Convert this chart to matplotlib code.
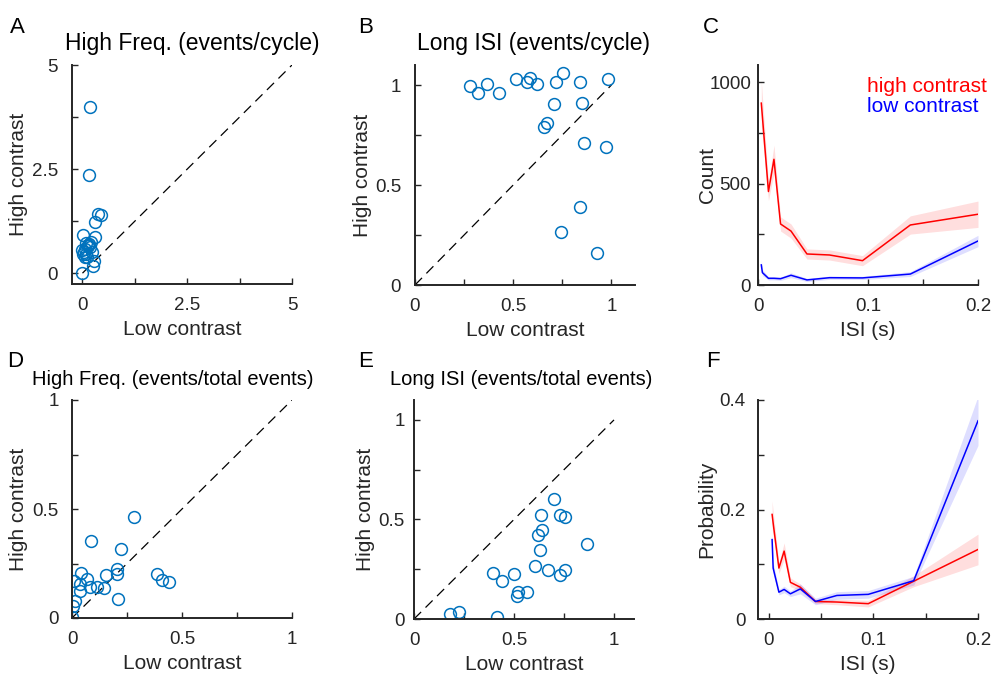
import matplotlib
matplotlib.use("Agg")
import matplotlib.pyplot as plt

plt.rcParams['font.family'] = ['Liberation Sans', 'DejaVu Sans']

# A: high freq events/cycle
low_A = [0.19, 0.16, 0.36, 0.45, 0.30, 0.02, 0.29, 0.15, 0.09, 0.20, 0.05, -0.01,
         0.01, 0.23, 0.11, 0.17, 0.27, 0.25, 0.0, 0.12, 0.08, 0.14, 0.03, 0.06]
high_A = [4.0, 2.35, 1.43, 1.39, 1.23, 0.91, 0.86, 0.71, 0.72, 0.75, 0.59, 0.55,
          0.47, 0.51, 0.39, 0.62, 0.30, 0.17, 0.01, 0.68, 0.45, 0.66, 0.52, 0.40]

# B: long ISI events/cycle
low_B = [0.282, 0.321, 0.368, 0.427, 0.516, 0.569, 0.586, 0.621, 0.718, 0.752, 0.841,
         0.98, 0.709, 0.85, 0.672, 0.658, 0.86, 0.971, 0.841, 0.744, 0.928]
high_B = [0.997, 0.958, 1.005, 0.958, 1.028, 1.017, 1.033, 1.003, 1.013, 1.058, 1.017,
          1.03, 0.903, 0.908, 0.812, 0.789, 0.712, 0.689, 0.389, 0.267, 0.158]

# D: high freq events/total events
low_D = [0.28, 0.086, 0.224, 0.205, 0.205, 0.156, 0.208, 0.386, 0.409, 0.439, 0.041,
         0.008, 0.068, 0.038, 0.083, 0.114, 0.144, 0.038, 0.015, 0.003, 0.0]
high_D = [0.465, 0.354, 0.315, 0.223, 0.2, 0.198, 0.085, 0.203, 0.175, 0.165, 0.208,
          0.172, 0.177, 0.157, 0.142, 0.142, 0.138, 0.123, 0.08, 0.057, 0.003]

# E: long ISI events/total events
low_E = [0.702, 0.635, 0.729, 0.757, 0.64, 0.619, 0.866, 0.632, 0.607, 0.669, 0.754,
         0.732, 0.395, 0.498, 0.441, 0.518, 0.565, 0.515, 0.181, 0.226, 0.415]
high_E = [0.602, 0.522, 0.522, 0.513, 0.447, 0.422, 0.377, 0.347, 0.268, 0.247, 0.247,
          0.222, 0.233, 0.227, 0.193, 0.138, 0.138, 0.117, 0.027, 0.035, 0.01]

# C / F: ISI histograms
isi = [0.003, 0.004, 0.0095, 0.0145, 0.0205, 0.030, 0.0445, 0.065, 0.095, 0.1385, 0.2]
count_high = [897, 830, 461, 620, 301, 266, 153, 148, 120, 296, 349]
count_high_err = [110, 100, 45, 70, 35, 35, 25, 25, 25, 45, 65]
count_low = [99, 61, 33, 33, 31, 48, 25, 36, 35, 54, 217]
count_low_err = [25, 15, 8, 8, 8, 12, 8, 8, 8, 12, 28]
prob_high = [0.191, 0.175, 0.093, 0.124, 0.067, 0.058, 0.032, 0.031, 0.028, 0.069, 0.127]
prob_high_err = [0.025, 0.022, 0.01, 0.015, 0.008, 0.006, 0.004, 0.005, 0.006, 0.01, 0.028]
prob_low = [0.145, 0.093, 0.049, 0.054, 0.046, 0.055, 0.032, 0.043, 0.045, 0.070, 0.362]
prob_low_err = [0.01, 0.01, 0.005, 0.006, 0.005, 0.009, 0.006, 0.007, 0.007, 0.008, 0.045]

DARK = '#262626'
MBLUE = '#0072BD'
W, H = 992, 674

fig = plt.figure(figsize=(9.92, 6.74), dpi=100)


def make_ax(l, t, r, b, ypad):
    ax = fig.add_axes([l / W, 1 - b / H, (r - l) / W, (b - t) / H])
    for s in ['top', 'right']:
        ax.spines[s].set_visible(False)
    for s in ['left', 'bottom']:
        ax.spines[s].set_linewidth(1.4)
        ax.spines[s].set_color(DARK)
    ax.tick_params(direction='in', length=4, width=1, colors=DARK, labelsize=13.5)
    ax.tick_params(axis='x', pad=9.5)
    ax.tick_params(axis='y', pad=ypad)
    return ax


def ticks(ax, xt, xl, yt, yl):
    ax.set_xticks(xt)
    ax.set_xticklabels(xl)
    ax.set_yticks(yt)
    ax.set_yticklabels(yl)


def labels(ax, xlab, ylab, yx, title=None, tx=0.5, tsize=16.5):
    ax.set_xlabel(xlab, fontsize=15, color=DARK)
    ax.xaxis.set_label_coords(0.5, -0.165)
    ax.set_ylabel(ylab, fontsize=15, color=DARK)
    ax.yaxis.set_label_coords(yx, 0.5)
    if title:
        ax.set_title(title, fontsize=tsize, x=tx, pad=11, color='black')


def scatter(ax, x, y, lim):
    ax.plot([0, lim], [0, lim], color='black', lw=0.9, ls=(0, (8, 5)))
    ax.plot(x, y, 'o', mfc='none', mec=MBLUE, ms=8.5, mew=1.1)


# A
ax = make_ax(72, 65, 292, 284, 10)
scatter(ax, low_A, high_A, 5)
ax.set_xlim(-0.25, 5)
ax.set_ylim(-0.26, 5)
ticks(ax, [0, 1.25, 2.5, 3.75, 5], ['0', '', '2.5', '', '5'],
      [0, 1.25, 2.5, 3.75, 5], ['0', '', '2.5', '', '5'])
labels(ax, 'Low contrast', 'High contrast', -0.2, 'High Freq. (events/cycle)', 0.548)

q = [0, 0.25, 0.5, 0.75, 1]
ql = ['0', '', '0.5', '', '1']

# B
ax = make_ax(415, 65, 635, 285, 10)
scatter(ax, low_B, high_B, 1)
ax.set_xlim(0, 1.12)
ax.set_ylim(0, 1.1)
ticks(ax, q, ql, q, ql)
labels(ax, 'Low contrast', 'High contrast', -0.195, 'Long ISI (events/cycle)', 0.54)

# C
ax = make_ax(758, 65, 978, 285, 5)
ax.fill_between(isi, [a - e for a, e in zip(count_high, count_high_err)],
                [a + e for a, e in zip(count_high, count_high_err)],
                color='red', alpha=0.13, lw=0)
ax.fill_between(isi, [a - e for a, e in zip(count_low, count_low_err)],
                [a + e for a, e in zip(count_low, count_low_err)],
                color='blue', alpha=0.13, lw=0)
ax.plot(isi, count_high, color='red', lw=1.1)
ax.plot(isi, count_low, color='blue', lw=1.1)
ax.set_xlim(0, 0.2)
ax.set_ylim(0, 1085)
ticks(ax, [0, 0.05, 0.1, 0.15, 0.2], ['0', '', '0.1', '', '0.2'],
      [0, 250, 500, 750, 1000], ['0', '', '500', '', '1000'])
labels(ax, 'ISI (s)', 'Count', -0.186)
ax.text(0.495, 0.9, 'high contrast', color='red', fontsize=15,
        transform=ax.transAxes, va='center')
ax.text(0.495, 0.81, 'low contrast', color='blue', fontsize=15,
        transform=ax.transAxes, va='center')

# D
ax = make_ax(72, 400, 292, 618, 9.5)
scatter(ax, low_D, high_D, 1)
ax.set_xlim(0, 1)
ax.set_ylim(0, 1)
ticks(ax, q, ql, q, ql)
labels(ax, 'Low contrast', 'High contrast', -0.2,
       'High Freq. (events/total events)', 0.457, 14.5)

# E
ax = make_ax(414, 400, 634, 619, 6.5)
scatter(ax, low_E, high_E, 1)
ax.set_xlim(0, 1.1)
ax.set_ylim(0, 1.1)
ticks(ax, q, ql, q, ql)
labels(ax, 'Low contrast', 'High contrast', -0.177,
       'Long ISI (events/total events)', 0.489, 14.5)

# F
ax = make_ax(758, 400, 978, 619, 9)
ax.fill_between(isi, [a - e for a, e in zip(prob_high, prob_high_err)],
                [a + e for a, e in zip(prob_high, prob_high_err)],
                color='red', alpha=0.13, lw=0)
ax.fill_between(isi, [a - e for a, e in zip(prob_low, prob_low_err)],
                [a + e for a, e in zip(prob_low, prob_low_err)],
                color='blue', alpha=0.13, lw=0)
ax.plot(isi, prob_high, color='red', lw=1.1)
ax.plot(isi, prob_low, color='blue', lw=1.1)
ax.set_xlim(-0.0105, 0.2)
ax.set_ylim(0, 0.4)
ticks(ax, [0, 0.05, 0.1, 0.15, 0.2], ['0', '', '0.1', '', '0.2'],
      [0, 0.1, 0.2, 0.3, 0.4], ['0', '', '0.2', '', '0.4'])
labels(ax, 'ISI (s)', 'Probability', -0.19)

# panel letters
for letter, x, y in [('A', 10, 33), ('B', 358, 33), ('C', 703, 33),
                     ('D', 7, 367), ('E', 358, 367), ('F', 706, 367)]:
    fig.text(x / W, 1 - y / H, letter, fontsize=16, va='baseline', ha='left')

fig.savefig('out.png', dpi=100)
